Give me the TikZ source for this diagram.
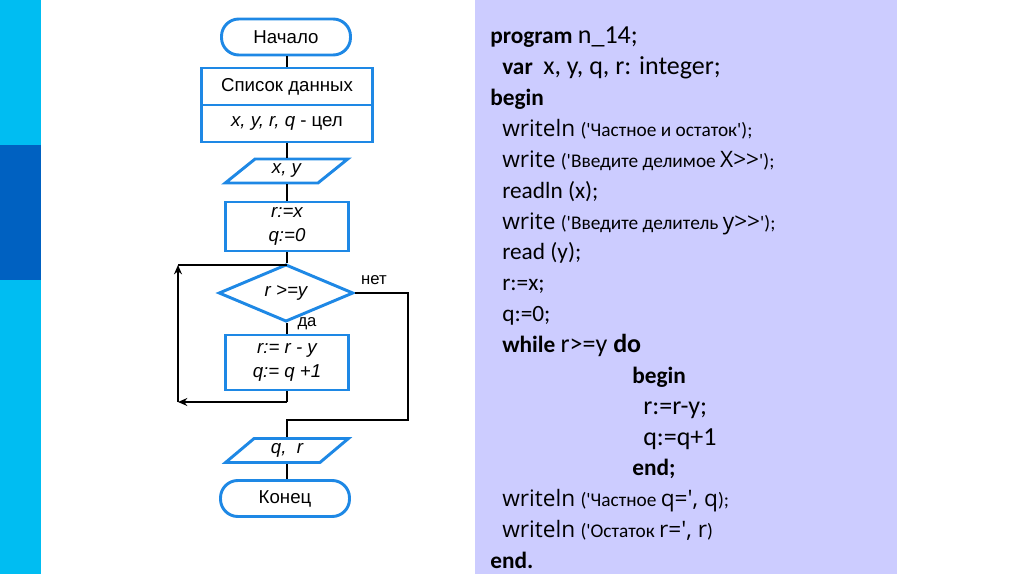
\documentclass[tikz,border=0pt]{standalone}
\usepackage{fontspec}
\setmainfont{Liberation Sans}
\newfontfamily\codefont{Carlito}[Ligatures=TeXOff]
\newfontfamily\wfont{Open Sans}[Ligatures=TeXOff]
\usetikzlibrary{shapes.geometric,arrows.meta}
\definecolor{fblue}{RGB}{30,136,229}
\definecolor{stripL}{RGB}{0,189,242}
\definecolor{stripD}{RGB}{0,97,193}
\definecolor{panel}{RGB}{204,204,255}
\newcommand\sqt{\textquotesingle}
\newcommand\codeL[1]{{\wfont\fontsize{17}{20}\selectfont #1}}
\newcommand\codeS[1]{{\fontsize{14.5}{16}\selectfont #1}}
\newcommand\codeM[1]{{\fontsize{19.5}{22}\selectfont #1}}
\begin{document}
\begin{tikzpicture}[x=0.75pt,y=-0.75pt,
  blk/.style={draw=fblue, line width=2.2pt, fill=white, inner sep=0pt, font=\fontsize{14}{17}\selectfont, align=center},
  term/.style={blk, rectangle, rounded corners=13pt, minimum width=96.75pt, minimum height=27pt},
  proc/.style={blk, rectangle},
  io/.style={blk, trapezium, trapezium left angle=45, trapezium right angle=135, trapezium stretches=true, minimum width=92.25pt, minimum height=18pt},
  dec/.style={blk, diamond, minimum width=101pt, minimum height=28.5pt},
  ln/.style={black, line width=1.5pt},
  arr/.style={ln, -{Stealth[length=7pt,width=6pt]}},
  lbl/.style={font=\fontsize{12.5}{14}\selectfont, inner sep=0pt},
  code/.style={anchor=base west, inner sep=0pt, font=\codefont\fontsize{17.5}{20}\selectfont},
]
\useasboundingbox (0,0) rectangle (1024,574);
% side strip and panel
\fill[stripL] (0,0) rectangle (41,574);
\fill[stripD] (0,145) rectangle (41,280);
\fill[panel] (475,0) rectangle (897,574);

% flowchart nodes
\node[term] (start) at (286,37) {Начало};
\node[proc, minimum width=128.25pt, minimum height=27.75pt] (list1) at (287,86.5) {Список данных};
\node[proc, minimum width=128.25pt, minimum height=27.75pt] (list2) at (287,123.5) {\itshape x, y, r, q \upshape - цел};
\node[io] (in) at (286.5,171) {\itshape x, y};
\node[proc, minimum width=92.25pt, minimum height=36.75pt] (init) at (287,226.5) {\itshape r:=x\\[1pt] \itshape q:=0};
\node[dec] (cond) at (286,293) {\itshape r >=y};
\node[proc, minimum width=92.25pt, minimum height=41.25pt] (body) at (287,362.5) {\itshape r:= r - y\\[1pt] \itshape q:= q +1};
\node[io] (out) at (287,450.5) {\itshape q,\ \ r};
\node[term] (stop) at (285,498.5) {Конец};

\node[lbl] (no) at (374,280) {нет};
\node[lbl] (yes) at (307,324) {да};

% connectors
\coordinate (j) at (287,265);
\coordinate (bb) at (287,402);
\coordinate (bl) at (178,402);
\coordinate (tl) at (178,265);
\coordinate (nr) at (408,293);
\coordinate (nb) at (408,420);
\coordinate (nm) at (287,420);
\draw[ln] (start.south -| list1) -- (list1.north);
\draw[ln] (list2.south) -- (in.north -| list2);
\draw[ln] (in.south -| init) -- (init.north);
\draw[ln] (init.south) -- (cond.north -| init);
\draw[ln] (cond.south -| body) -- (body.north);
\draw[ln] (body.south) -- (bb);
\draw[arr] (bb) -- (bl);
\draw[arr] (bl) -- (tl);
\draw[ln] (tl) -- (j);
\draw[ln] (cond.east) -- (nr) -- (nb) -- (nm) -- (out.north -| nm);
\draw[ln] (out.south -| nm) -- (stop.north -| nm);

% code
\node[code] (c0) at (490,44) {\textbf{program} \codeM{n\_14;}};
\node[code] (c1) at (502,74.8) {\textbf{var}\ \ \codeM{x, y, q, r: integer;}};
\node[code] (c2) at (490,105.7) {\textbf{begin}};
\node[code] (c3) at (502,136.5) {\codeL{writeln} \codeS{(\sqt Частное и остаток\sqt);}};
\node[code] (c4) at (502,167.4) {\codeL{write} \codeS{(\sqt Введите делимое }\codeL{X>{}>}\codeS{\sqt);}};
\node[code] (c5) at (502,198.2) {readln (x);};
\node[code] (c6) at (502,229.1) {\codeL{write} \codeS{(\sqt Введите делитель }\codeL{y>{}>}\codeS{\sqt);}};
\node[code] (c7) at (502,259.9) {read (y);};
\node[code] (c8) at (502,290.8) {r:=x;};
\node[code] (c9) at (502,321.6) {q:=0;};
\node[code] (c10) at (502,352.5) {\textbf{while} \codeM{r>=y \textbf{do}}};
\node[code] (c11) at (632,383.3) {\textbf{begin}};
\node[code] (c12) at (643,414.2) {\codeM{r:=r-y;}};
\node[code] (c13) at (643,445) {\codeM{q:=q+1}};
\node[code] (c14) at (632,475.9) {\textbf{end;}};
\node[code] (c15) at (502,506.7) {\codeL{writeln} \codeS{(\sqt Частное }\codeL{q=\sqt, q}\codeS{);}};
\node[code] (c16) at (502,537.6) {\codeL{writeln} \codeS{(\sqt Остаток }\codeL{r=\sqt, r}\codeS{)}};
\node[code] (c17) at (490,568.4) {\textbf{end.}};
\end{tikzpicture}
\end{document}
